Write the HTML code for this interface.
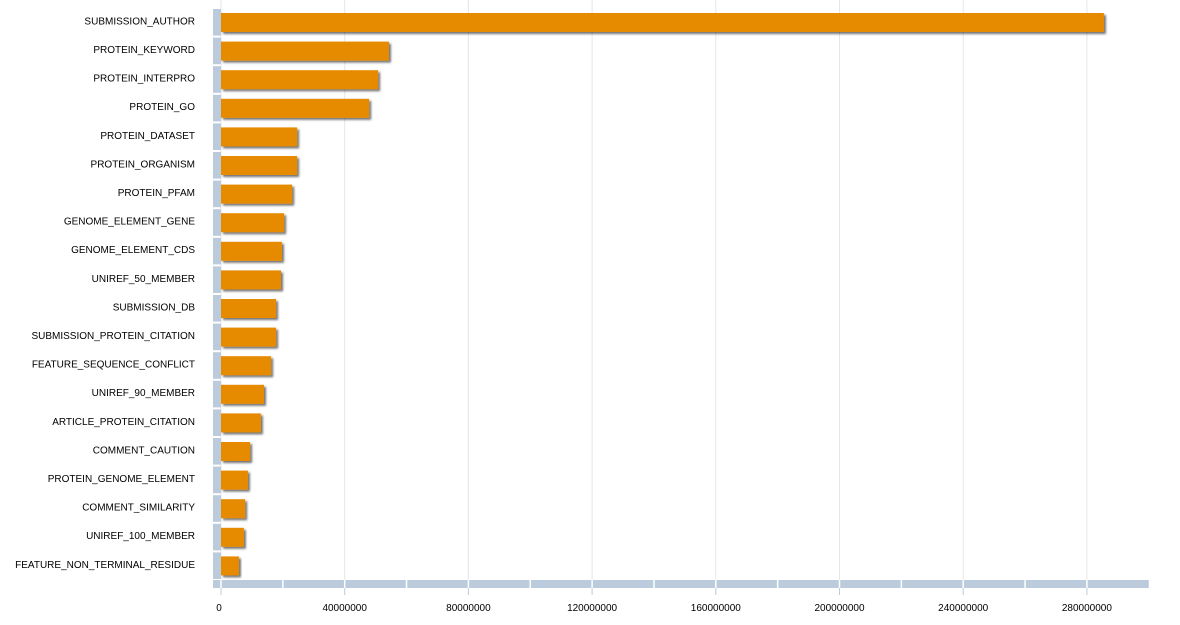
<!DOCTYPE html>
<html><head><meta charset="utf-8"><style>
html,body{margin:0;padding:0;background:#fff;}
svg{display:block;font-family:"Liberation Sans",Arial,sans-serif;}
</style></head><body>
<svg id="chart" width="1180" height="625" viewBox="0 0 1180 625"></svg>
<script>
const categories=["SUBMISSION_AUTHOR","PROTEIN_KEYWORD","PROTEIN_INTERPRO","PROTEIN_GO","PROTEIN_DATASET","PROTEIN_ORGANISM","PROTEIN_PFAM","GENOME_ELEMENT_GENE","GENOME_ELEMENT_CDS","UNIREF_50_MEMBER","SUBMISSION_DB","SUBMISSION_PROTEIN_CITATION","FEATURE_SEQUENCE_CONFLICT","UNIREF_90_MEMBER","ARTICLE_PROTEIN_CITATION","COMMENT_CAUTION","PROTEIN_GENOME_ELEMENT","COMMENT_SIMILARITY","UNIREF_100_MEMBER","FEATURE_NON_TERMINAL_RESIDUE"];
const values=[285500000,54300000,50800000,47900000,24600000,24600000,23000000,20400000,19700000,19400000,17800000,17800000,16200000,13900000,12900000,9400000,8700000,7800000,7400000,5800000];
const tickValues=[0,40000000,80000000,120000000,160000000,200000000,240000000,280000000];
const tickLabels=["0","40000000","80000000","120000000","160000000","200000000","240000000","280000000"];
const NS="http://www.w3.org/2000/svg";
const svg=document.getElementById('chart');
const x0=221,pxPer=123.7/40000000,domainMax=300000000;
const x=v=>x0+v*pxPer;
const rowTop=8,rowStep=28.6;
const y=i=>rowTop+i*rowStep;
function mk(tag,attrs,parent){const e=document.createElementNS(NS,tag);for(const k in attrs)e.setAttribute(k,attrs[k]);(parent||svg).appendChild(e);return e;}
const defs=mk('defs',{});
const f=mk('filter',{id:'sh',x:'-5%',y:'-20%',width:'120%',height:'160%'},defs);
mk('feDropShadow',{dx:'2',dy:'2',stdDeviation:'1',"flood-color":'#000',"flood-opacity":'0.55'},f);
// gridlines
tickValues.forEach(v=>{const g=mk('line',{x1:x(v),x2:x(v),y1:0,y2:580,stroke:'#e6e6e6','stroke-width':1});
});
// rail segments and labels
categories.forEach((c,i)=>{
 const r=mk('rect',{x:213,y:y(i)+1,width:8,height:rowStep-2,fill:'#bbcbdb'});
 
 const t=mk('text',{x:195,y:y(i)+rowStep/2-0.5,'text-anchor':'end','dominant-baseline':'middle','font-size':'10',fill:'#000'});
 t.textContent=c;
 
});
// bottom axis bar
const ab=mk('rect',{x:213,y:580,width:x(domainMax)-213,height:8,fill:'#bbcbdb'});

for(let v=0;v<domainMax;v+=20000000){const s=mk('line',{x1:x(v),x2:x(v),y1:580,y2:588,stroke:'#fff','stroke-width':1.5});
}
// bars
values.forEach((v,i)=>{
 const b=mk('rect',{x:x0,y:y(i)+5,width:Math.max(1,x(v)-x0),height:19,fill:'#e68a00',filter:'url(#sh)'});
 
 
});
// ticks
tickValues.forEach((v,i)=>{
 const tk=mk('line',{x1:x(v),x2:x(v),y1:588,y2:595,stroke:'#bbcbdb','stroke-width':1});
 
 const t=mk('text',{x:x(v)-(i===0?2:0),y:611,'text-anchor':'middle','font-size':'10',fill:'#000'});
 t.textContent=tickLabels[i];
 
});
</script>
</body></html>
